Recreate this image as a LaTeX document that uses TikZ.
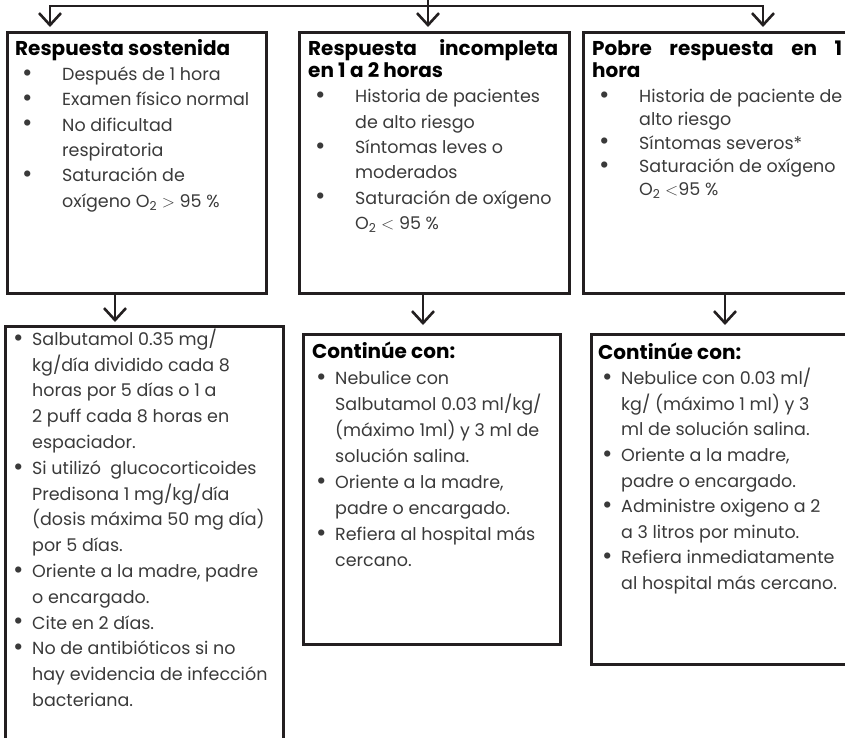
\documentclass[tikz,border=0pt]{standalone}
\usepackage{fontspec}
\setmainfont{Poppins}
\usetikzlibrary{arrows.meta,positioning}

\definecolor{inkline}{HTML}{231F20}
\definecolor{inktext}{HTML}{3A3A3A}

% bullets for the upper boxes (wide tab) and the lower boxes (narrow tab)
\newcommand\bdot{\raisebox{-0.8pt}{\scalebox{1.45}{\textbullet}}}
\newcommand\bulA{\hspace*{7pt}\makebox[40pt][l]{\bdot}}
\newcommand\bulB{\hspace*{4pt}\makebox[19pt][l]{\bdot}}
\newcommand\indA{\hspace*{47pt}}
\newcommand\indB{\hspace*{23pt}}
\newcommand\ttl[1]{{\fontsize{20}{22}\bfseries\color{black}#1}}

\begin{document}
\begin{tikzpicture}[
    x=1pt, y=-1pt,
    box/.style={rectangle, draw=inkline, line width=2.6pt, anchor=north west, inner sep=0pt},
    txt/.style={anchor=north west, inner sep=0pt, align=left, text=inktext, font=\fontsize{17.5}{25.3}\selectfont},
    arrow/.style={-{Straight Barb[length=12pt,width=22pt]}, draw=inkline, line width=2.6pt},
    line/.style={draw=inkline, line width=2.6pt}
]
\useasboundingbox (0,0) rectangle (845,737);

% Upper boxes
\node[box, minimum width=259pt, minimum height=261pt] (b1) at (6,31) {};
\node[box, minimum width=270pt, minimum height=261pt] (b2) at (298,31) {};
\node[box, minimum width=280pt, minimum height=261pt] (b3) at (582,31) {};

% Lower boxes
\node[box, minimum width=278pt, minimum height=430pt] (c1) at (4,325) {};
\node[box, minimum width=257pt, minimum height=310pt] (c2) at (302,333) {};
\node[box, minimum width=270pt, minimum height=330pt] (c3) at (590,333) {};

% Texts of the upper boxes
\node[txt] (t1) at (15,37.3) {\strut\ttl{Respuesta sostenida}\\
  \bulA Después de 1 hora\\
  \bulA Examen físico normal\\
  \bulA No dificultad\\
  \indA respiratoria\\
  \bulA Saturación de\\
  \indA oxígeno O\textsubscript{2} $>$ 95 \%};

\node[txt] (t2) at (308,37.3) {\strut\ttl{\makebox[250pt][s]{Respuesta incompleta}}\\[-3pt]
  \ttl{en 1 a 2 horas}\\
  \bulA Historia de pacientes\\
  \indA de alto riesgo\\
  \bulA Síntomas leves o\\
  \indA moderados\\
  \bulA Saturación de oxígeno\\
  \indA O\textsubscript{2} $<$ 95 \%};

\node[txt, font=\fontsize{17.5}{23.2}\selectfont] (t3) at (592,38.8) {\strut\ttl{\makebox[250pt][s]{Pobre respuesta en 1}}\\[-1pt]
  \ttl{hora}\\[2pt]
  \bulA Historia de paciente de\\
  \indA alto riesgo\\
  \bulA Síntomas severos*\\
  \bulA Saturación de oxígeno\\
  \indA O\textsubscript{2} $<$95 \%};

% Texts of the lower boxes
\node[txt, font=\fontsize{17.5}{25.8}\selectfont] (t4) at (9,327) {\strut
  \bulB Salbutamol 0.35 mg/\\
  \indB kg/día dividido cada 8\\
  \indB horas por 5 días o 1 a\\
  \indB 2 puff cada 8 horas en\\
  \indB espaciador.\\
  \bulB Si utilizó\ \ glucocorticoides\\
  \indB Predisona 1 mg/kg/día\\
  \indB (dosis máxima 50 mg día)\\
  \indB por 5 días.\\
  \bulB Oriente a la madre, padre\\
  \indB o encargado.\\
  \bulB Cite en 2 días.\\
  \bulB No de antibióticos si no\\
  \indB hay evidencia de infección\\
  \indB bacteriana.};

\node[txt, font=\fontsize{17.5}{26}\selectfont] (t5) at (312,340) {\strut\ttl{Continúe con:}\\[0pt]
  \bulB Nebulice con\\
  \indB Salbutamol 0.03 ml/kg/\\
  \indB (máximo 1ml) y 3 ml de\\
  \indB solución salina.\\
  \bulB Oriente a la madre,\\
  \indB padre o encargado.\\
  \bulB Refiera al hospital más\\
  \indB cercano.};

\node[txt, font=\fontsize{17.5}{25.6}\selectfont] (t6) at (598,341) {\strut\ttl{Continúe con:}\\[0pt]
  \bulB Nebulice con 0.03 ml/\\
  \indB kg/ (máximo 1 ml) y 3\\
  \indB ml de solución salina.\\
  \bulB Oriente a la madre,\\
  \indB padre o encargado.\\
  \bulB Administre oxigeno a 2\\
  \indB a 3 litros por minuto.\\
  \bulB Refiera inmediatamente\\
  \indB al hospital más cercano.};

% Split at the top
\coordinate (entry) at (428,-5);
\coordinate (split) at (428,6);
\coordinate (s1) at (50,6);
\coordinate (s3) at (763,6);
\draw[line] (entry) -- (split);
\draw[arrow, {Straight Barb[length=12pt,width=22pt]}-{Straight Barb[length=12pt,width=22pt]}, shorten <=4pt, shorten >=4pt]
  (s1 |- b1.north) -- (s1) -- (s3) -- (s3 |- b3.north);
\draw[arrow, shorten >=4pt] (split) -- (split |- b2.north);

% Down to the lower boxes
\draw[arrow, shorten >=3pt] (115,0 |- b1.south) -- (115,0 |- c1.north);
\draw[arrow, shorten >=8pt] (423,0 |- b2.south) -- (423,0 |- c2.north);
\draw[arrow, shorten >=8pt] (725,0 |- b3.south) -- (725,0 |- c3.north);

\end{tikzpicture}
\end{document}
